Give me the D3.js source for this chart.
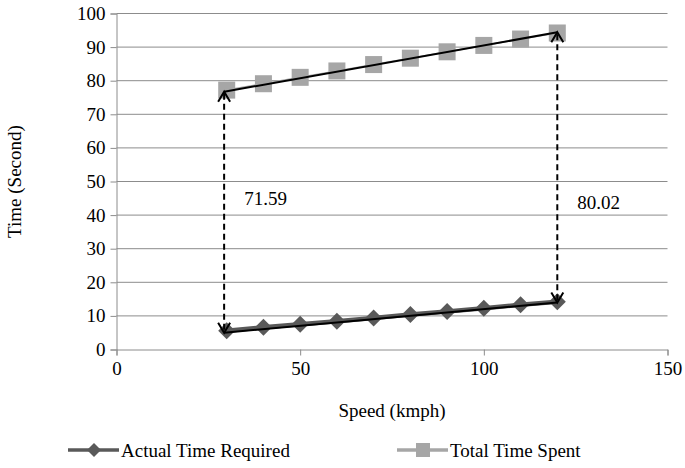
<!DOCTYPE html>
<html><head><meta charset="utf-8">
<script src="https://cdn.jsdelivr.net/npm/d3@7/dist/d3.min.js"></script>
</head><body><svg id="c" width="685" height="468"></svg>
<script>
const speeds = [30, 40, 50, 60, 70, 80, 90, 100, 110, 120];
const actualTime = [5.6, 6.6, 7.5, 8.4, 9.4, 10.4, 11.3, 12.3, 13.3, 14.2];
const totalTime = [77.2, 79.1, 81.0, 82.9, 84.8, 86.7, 88.6, 90.5, 92.4, 94.2];
const xTicks = [0, 50, 100, 150];
const yTicks = [0, 10, 20, 30, 40, 50, 60, 70, 80, 90, 100];
const seriesNames = ["Actual Time Required", "Total Time Spent"];
const gapSpeeds = [29.3, 120];
const gapTop = [76.7, 94.4];
const gapBottom = [5.0, 14.0];
const gapLabels = ["71.59", "80.02"];
const gapLabelY = [45, 44];

const svg = d3.select("#c").style("position", "absolute").style("left", "0px").style("top", "0px");
const x = d3.scaleLinear().domain([0, 150]).range([116.5, 667.5]);
const y = d3.scaleLinear().domain([0, 100]).range([349.5, 13.5]);
const grid = "#8c8c8c";
const tx = (sel) => sel.attr("font-family", "\"Liberation Serif\"").attr("font-size", 19).attr("fill", "#000");

svg.append("g").selectAll("line").data(yTicks.slice(1)).join("line")
  .attr("x1", x(0)).attr("x2", x(150)).attr("y1", d => y(d)).attr("y2", d => y(d))
  .attr("stroke", grid).attr("stroke-width", 1);

const yAxis = svg.append("g").attr("transform", `translate(${x(0)},0)`)
  .call(d3.axisLeft(y).tickValues(yTicks).tickSize(6).tickPadding(5));
const xAxis = svg.append("g").attr("transform", `translate(0,${y(0)})`)
  .call(d3.axisBottom(x).tickValues(xTicks).tickSize(6).tickPadding(6));
[yAxis, xAxis].forEach(a => {
  a.attr("font-family", "\"Liberation Serif\"").attr("font-size", 19);
  a.select(".domain").attr("stroke", grid);
  a.selectAll(".tick line").attr("stroke", grid);
  a.selectAll("text").call(tx);
});

const line = (vals) => d3.line().x((d, i) => x(speeds[i])).y(d => y(d))(vals);
svg.append("path").attr("d", line(actualTime)).attr("fill", "none").attr("stroke", "#595959").attr("stroke-width", 4.5);
svg.append("path").attr("d", line(totalTime)).attr("fill", "none").attr("stroke", "#a6a6a6").attr("stroke-width", 1.5);

const diamond = (cx, cy, r) => `M${cx},${cy - r}L${cx + r},${cy}L${cx},${cy + r}L${cx - r},${cy}Z`;
svg.append("g").selectAll("path").data(actualTime).join("path")
  .attr("d", (d, i) => diamond(x(speeds[i]), y(d), 8.5)).attr("fill", "#595959");
svg.append("g").selectAll("rect").data(totalTime).join("rect")
  .attr("x", (d, i) => x(speeds[i]) - 8.5).attr("y", d => y(d) - 8.5)
  .attr("width", 17).attr("height", 17).attr("fill", "#a6a6a6");

svg.append("line").attr("x1", x(gapSpeeds[0])).attr("y1", y(gapTop[0]))
  .attr("x2", x(gapSpeeds[1])).attr("y2", y(gapTop[1])).attr("stroke", "#000").attr("stroke-width", 2);
svg.append("line").attr("x1", x(gapSpeeds[0])).attr("y1", y(gapBottom[0]))
  .attr("x2", x(gapSpeeds[1])).attr("y2", y(gapBottom[1])).attr("stroke", "#000").attr("stroke-width", 2);

gapSpeeds.forEach((s, i) => {
  const px = x(s), t = y(gapTop[i]), b = y(gapBottom[i]);
  svg.append("line").attr("x1", px).attr("x2", px).attr("y1", t + 2).attr("y2", b - 2)
    .attr("stroke", "#000").attr("stroke-width", 2).attr("stroke-dasharray", "6,4");
  svg.append("path").attr("d", `M${px - 6},${t + 10}L${px},${t}L${px + 6},${t + 10}`)
    .attr("fill", "none").attr("stroke", "#000").attr("stroke-width", 2);
  svg.append("path").attr("d", `M${px - 6},${b - 10}L${px},${b}L${px + 6},${b - 10}`)
    .attr("fill", "none").attr("stroke", "#000").attr("stroke-width", 2);
  svg.append("text").attr("x", px + 20).attr("y", y(gapLabelY[i]) + 7).call(tx).text(gapLabels[i]);
});

svg.append("text").attr("transform", `translate(21,${y(50)}) rotate(-90)`)
  .attr("text-anchor", "middle").call(tx).text("Time (Second)");
svg.append("text").attr("x", x(75)).attr("y", 417)
  .attr("text-anchor", "middle").call(tx).text("Speed (kmph)");

const lg = svg.append("g");
const legendItems = [
  {name: seriesNames[0], x0: 68, color: "#595959", shape: "diamond"},
  {name: seriesNames[1], x0: 397, color: "#a6a6a6", shape: "square"}
];
legendItems.forEach(it => {
  const ly = 450;
  lg.append("line").attr("x1", it.x0).attr("x2", it.x0 + 51).attr("y1", ly).attr("y2", ly)
    .attr("stroke", it.color).attr("stroke-width", 3.5);
  if (it.shape === "diamond") lg.append("path").attr("d", diamond(it.x0 + 26, ly, 7)).attr("fill", it.color);
  else lg.append("rect").attr("x", it.x0 + 19).attr("y", ly - 7).attr("width", 14).attr("height", 14).attr("fill", it.color);
  lg.append("text").attr("x", it.x0 + 53).attr("y", ly + 7).call(tx).text(it.name);
});
</script></body></html>
